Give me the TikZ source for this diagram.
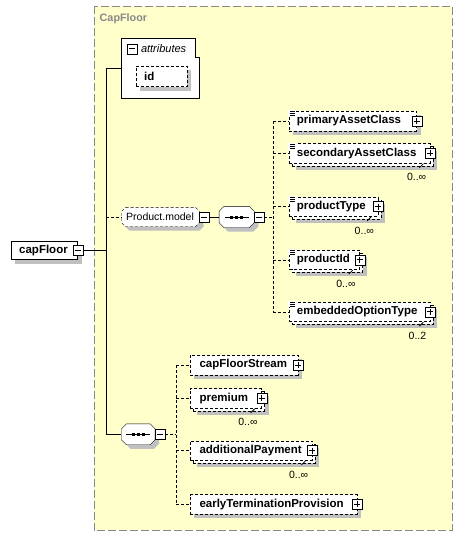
\documentclass[tikz,border=0pt]{standalone}
\usepackage{fontspec}
\setmainfont{Liberation Sans}
\usetikzlibrary{calc,shadows}
\definecolor{ylw}{RGB}{255,255,204}
\definecolor{shd}{RGB}{192,192,192}
\definecolor{frm}{RGB}{136,136,136}
\pgfdeclarelayer{back}
\pgfdeclarelayer{mid}
\pgfsetlayers{back,mid,main}
\newcommand\xelf{\fontsize{11.5}{13}\selectfont\bfseries}
\newcommand\xrgf{\fontsize{10.5}{12}\selectfont}
\newcommand\mkel[3]{\makebox[#1pt][l]{\hspace*{#2pt}#3}}
\newcommand\octo[3]{\path[#3] ($(#1.north west)+(#2,0)$) -- ($(#1.north east)+(-#2,0)$) -- ($(#1.north east)+(0,#2)$) -- ($(#1.south east)+(0,-#2)$) -- ($(#1.south east)+(-#2,0)$) -- ($(#1.south west)+(#2,0)$) -- ($(#1.south west)+(0,-#2)$) -- ($(#1.north west)+(0,#2)$) -- cycle;}
\newcommand\eqicon[1]{\fill[white] ($(#1.north west)+(-0.6,-0.6)$) rectangle ($(#1.north west)+(7,5.5)$);
  \foreach \q in {0.5,2.5,4.5} \draw[line width=0.7pt] ($(#1.north west)+(1.5,\q)$) -- ++(5,0);}
\newcommand\seqdots[1]{\draw[line width=1pt] ($(#1.center)+(-12,0)$) -- ($(#1.center)+(12,0)$);
  \foreach \q in {-5,0,5} \fill ($(#1.center)+(\q-1.5,-1.5)$) rectangle ($(#1.center)+(\q+1.5,1.5)$);}
\newcommand\mtick[1]{\draw[line width=0.8pt] ($(#1.south east)+(-11,4.5)$) -- ($(#1.south east)+(-7,0.5)$);}
\begin{document}
\begin{tikzpicture}[x=1pt,y=-1pt,line width=1pt,
  dsh/.style={dash pattern=on 3pt off 2pt},
  elnode/.style={draw, dsh, fill=white, inner sep=0pt, anchor=west, font=\xelf, minimum height=19.5pt},
  single/.style={elnode, general shadow={fill=shd, shadow xshift=4pt, shadow yshift=-4pt}},
  multi/.style={elnode, general shadow={fill=shd, shadow xshift=7pt, shadow yshift=-7pt}, general shadow={fill=white, draw=black, dsh, shadow xshift=3pt, shadow yshift=-3pt}},
  pmbox/.style={draw, solid, fill=white, inner sep=0pt, minimum size=10pt},
  plusbox/.style={pmbox, path picture={\draw[line width=1pt] ([xshift=2pt]path picture bounding box.west) -- ([xshift=-2pt]path picture bounding box.east) ([yshift=-2pt]path picture bounding box.north) -- ([yshift=2pt]path picture bounding box.south);}},
  minusbox/.style={pmbox, path picture={\draw[line width=1pt] ([xshift=2pt]path picture bounding box.west) -- ([xshift=-2pt]path picture bounding box.east);}},
  mult/.style={font=\xrgf, inner sep=0pt, anchor=east},
]
\useasboundingbox (0,0) rectangle (462,536);
\begin{pgfonlayer}{back}
  \fill[white] (0,0) rectangle (462,536);
  \draw[frm, dash pattern=on 8pt off 3pt, fill=ylw] (93.7,5.7) rectangle (451.7,530);
\end{pgfonlayer}
\node[anchor=west, inner sep=0pt, text=frm, font=\fontsize{10.8}{12}\selectfont\bfseries] (cfTitle) at (99.5,19) {CapFloor};

% attributes
\node[inner sep=0pt, minimum width=77.4pt, minimum height=59pt, anchor=north west] (attr) at (121.3,38.3) {};
\draw[fill=white] (attr.north west) -- ($(attr.north east)+(-4.4,0)$) -- ($(attr.north east)+(-4.4,19)$) -- ($(attr.north east)+(0,19)$) -- (attr.south east) -- (attr.south west) -- cycle;
\node[minusbox] (attrPM) at (132,48.7) {};
\node[anchor=west, inner sep=0pt, font=\fontsize{11}{13}\selectfont\itshape] (attrLbl) at (140.8,48.5) {attributes};
\node[single, minimum height=20.7pt] (id) at (135.7,76.3) {\mkel{51}{8.3}{id}};

% root
\node[single, solid, minimum height=18pt] (capFloor) at (10.7,250.5) {\mkel{66.6}{8.3}{capFloor}};
\node[minusbox] (capFloorPM) at (capFloor.east) {};

% Product.model group and sequences
\node[inner sep=0pt, minimum height=19pt, font=\xrgf] (PM) at (160.5,217) {\mkel{77.6}{4.5}{Product.model}};
\node[minusbox, anchor=west] (PMpm) at ($(PM.east)+(-1,0)$) {};
\node[inner sep=0pt, minimum width=34.7pt, minimum height=21pt] (seq1) at (236.7,217) {};
\node[minusbox, anchor=west] (seq1pm) at ($(seq1.east)+(-0.5,0)$) {};
\node[inner sep=0pt, minimum width=33.3pt, minimum height=20.5pt] (seq2) at (138.3,434.3) {};
\node[minusbox, anchor=west] (seq2pm) at ($(seq2.east)+(-0.5,0)$) {};
\begin{pgfonlayer}{mid}
  \begin{scope}[transform canvas={shift={(4pt,-4pt)}}]
    \octo{PM}{4}{fill=shd}
    \octo{seq1}{5}{fill=shd}
    \octo{seq2}{5}{fill=shd}
  \end{scope}
  \octo{PM}{4}{fill=white,draw,dsh}
  \octo{seq1}{5}{fill=white,draw}
  \octo{seq2}{5}{fill=white,draw}
\end{pgfonlayer}
\seqdots{seq1}
\seqdots{seq2}

% children of first sequence
\node[single] (c1) at (288.7,121) {\mkel{127.6}{8}{primaryAssetClass}};
\node[plusbox] (c1pm) at (c1.east) {};
\eqicon{c1}
\node[multi] (c2) at (288.7,153.3) {\mkel{141.3}{8}{secondaryAssetClass}};
\node[plusbox] (c2pm) at (c2.east) {};
\eqicon{c2}
\mtick{c2}
\node[mult] (c2m) at ($(c2.south east)+(-4,14)$) {0..∞};
\node[multi] (c3) at (288.7,206.5) {\mkel{89}{8}{productType}};
\node[plusbox] (c3pm) at (c3.east) {};
\eqicon{c3}
\mtick{c3}
\node[mult] (c3m) at ($(c3.south east)+(-4,14)$) {0..∞};
\node[multi] (c4) at (288.7,259.7) {\mkel{70.6}{8}{productId}};
\node[plusbox] (c4pm) at (c4.east) {};
\eqicon{c4}
\mtick{c4}
\node[mult] (c4m) at ($(c4.south east)+(-4,14)$) {0..∞};
\node[multi] (c5) at (288.7,311.7) {\mkel{141.3}{8}{embeddedOptionType}};
\node[plusbox] (c5pm) at (c5.east) {};
\eqicon{c5}
\mtick{c5}
\node[mult] (c5m) at ($(c5.south east)+(-4,14)$) {0..2};

% children of second sequence
\node[single] (d1) at (190,365) {\mkel{107.7}{9.3}{capFloorStream}};
\node[plusbox] (d1pm) at (d1.east) {};
\node[multi] (d2) at (190,398.3) {\mkel{71.3}{9.3}{premium}};
\node[plusbox] (d2pm) at (d2.east) {};
\mtick{d2}
\node[mult] (d2m) at ($(d2.south east)+(-4,14)$) {0..∞};
\node[multi] (d3) at (190,450.5) {\mkel{122}{9.3}{additionalPayment}};
\node[plusbox] (d3pm) at (d3.east) {};
\mtick{d3}
\node[mult] (d3m) at ($(d3.south east)+(-4,14)$) {0..∞};
\node[single] (d4) at (190,504.3) {\mkel{166.7}{9.3}{earlyTerminationProvision}};
\node[plusbox] (d4pm) at (d4.east) {};

% connectors
\coordinate (jA) at (106.3,250.5);
\draw (capFloorPM.east) -- (jA);
\draw (attr.west) -| (jA) |- (seq2.west);
\draw[dsh] (jA |- PM.west) -- (PM.west);
\draw (PMpm.east) -- (seq1.west);
\coordinate (b1) at (273.3,217);
\draw[dsh] (seq1pm.east) -- (b1);
\draw[dsh] (b1 |- c1.west) -- (b1 |- c5.west);
\foreach \n in {c1,c2,c3,c4,c5} \draw[dsh] (b1 |- \n.west) -- (\n.west);
\coordinate (b2) at (176,434.3);
\draw[dsh] (seq2pm.east) -- (b2);
\draw[dsh] (b2 |- d1.west) -- (b2 |- d4.west);
\foreach \n in {d1,d2,d3,d4} \draw[dsh] (b2 |- \n.west) -- (\n.west);
\end{tikzpicture}
\end{document}
